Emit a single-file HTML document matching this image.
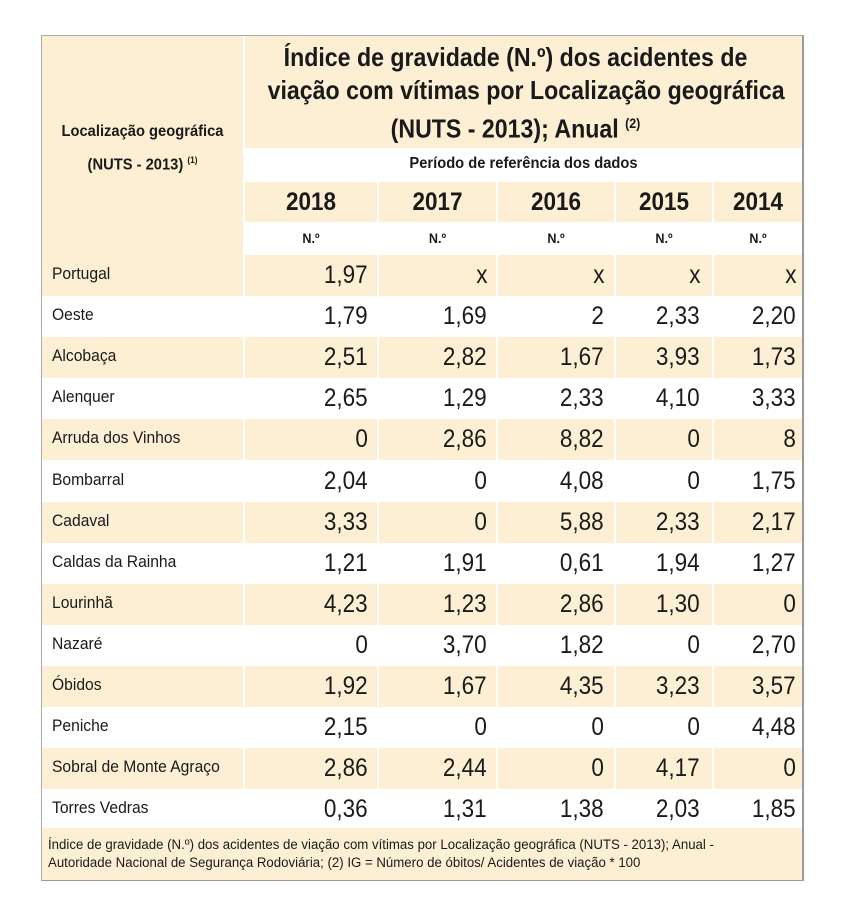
<!DOCTYPE html>
<html><head><meta charset="utf-8"><style>
*{margin:0;padding:0;box-sizing:border-box}
body{width:850px;height:917px;background:#fff;position:relative;font-family:"Liberation Sans",sans-serif;color:#1a1a1a;overflow:hidden}
.a{position:absolute}
.b{background:#fcefd4}
.w{background:#fff}
.t{position:absolute;white-space:nowrap}
.lab{font-size:17px;left:52px;transform:scaleX(0.92);transform-origin:left}
.num{font-size:25px;text-align:right;transform:scaleX(0.9);transform-origin:right}
.yr{font-size:25px;font-weight:bold;text-align:center;transform:scaleX(0.9)}
.no{font-size:14px;font-weight:bold;text-align:center;transform:scaleX(0.9)}
.sep{position:absolute;width:2px;background:#fff}
</style></head><body>
<div class="a" style="left:41px;top:35px;width:763px;height:846px;border:1px solid #aaa;border-right:2px solid #999;border-bottom:2px solid #999"></div>
<div class="a b" style="left:42px;top:36px;width:760px;height:219px"></div>
<div class="a w" style="left:245px;top:148px;width:557px;height:34px"></div>
<div class="a w" style="left:245px;top:222px;width:557px;height:33px"></div>
<div class="sep" style="left:243px;top:36px;height:219px"></div>
<div class="sep" style="left:377px;top:182px;height:40px"></div>
<div class="sep" style="left:496px;top:182px;height:40px"></div>
<div class="sep" style="left:614px;top:182px;height:40px"></div>
<div class="sep" style="left:712px;top:182px;height:40px"></div>

<div class="t" style="left:237px;width:557px;top:41px;text-align:center;font-size:26px;font-weight:bold;line-height:33px;transform:scaleX(0.89)">Índice de gravidade (N.º) dos acidentes de<br>viação com vítimas por Localização geográfica<br>(NUTS - 2013); Anual <sup style="font-size:14px">(2)</sup></div>
<div class="t" style="left:42px;width:201px;top:117px;text-align:center;font-size:16px;font-weight:bold;line-height:29px;transform:scaleX(0.92)">Localização geográfica<br>(NUTS - 2013) <sup style="font-size:9px">(1)</sup></div>
<div class="t" style="left:245px;width:557px;top:155px;text-align:center;font-size:16px;font-weight:bold;transform:scaleX(0.92)">Período de referência dos dados</div>

<div class="t yr" style="left:245px;width:132px;top:188px">2018</div>
<div class="t yr" style="left:379px;width:117px;top:188px">2017</div>
<div class="t yr" style="left:498px;width:116px;top:188px">2016</div>
<div class="t yr" style="left:616px;width:96px;top:188px">2015</div>
<div class="t yr" style="left:714px;width:88px;top:188px">2014</div>
<div class="t no" style="left:245px;width:132px;top:230px">N.º</div>
<div class="t no" style="left:379px;width:117px;top:230px">N.º</div>
<div class="t no" style="left:498px;width:116px;top:230px">N.º</div>
<div class="t no" style="left:616px;width:96px;top:230px">N.º</div>
<div class="t no" style="left:714px;width:88px;top:230px">N.º</div>

<div id="rows"></div>
<div class="a b" style="left:42px;top:828px;width:760px;height:52px"></div>
<div class="t" style="left:48px;top:836px;font-size:13.5px;line-height:18px;transform:scaleX(0.98);transform-origin:left">Índice de gravidade (N.º) dos acidentes de viação com vítimas por Localização geográfica (NUTS - 2013); Anual -<br>Autoridade Nacional de Segurança Rodoviária; (2) IG = Número de óbitos/ Acidentes de viação * 100</div>
<script>
var d=[["Portugal","1,97","x","x","x","x"],["Oeste","1,79","1,69","2","2,33","2,20"],["Alcobaça","2,51","2,82","1,67","3,93","1,73"],["Alenquer","2,65","1,29","2,33","4,10","3,33"],["Arruda dos Vinhos","0","2,86","8,82","0","8"],["Bombarral","2,04","0","4,08","0","1,75"],["Cadaval","3,33","0","5,88","2,33","2,17"],["Caldas da Rainha","1,21","1,91","0,61","1,94","1,27"],["Lourinhã","4,23","1,23","2,86","1,30","0"],["Nazaré","0","3,70","1,82","0","2,70"],["Óbidos","1,92","1,67","4,35","3,23","3,57"],["Peniche","2,15","0","0","0","4,48"],["Sobral de Monte Agraço","2,86","2,44","0","4,17","0"],["Torres Vedras","0,36","1,31","1,38","2,03","1,85"]];
var R=[368,487,604,700,796],h="";
d.forEach(function(r,i){var y=255+i*41.1;
if(i%2==0){h+='<div class="a b" style="left:42px;top:'+y+'px;width:760px;height:41px"></div>';
[243,377,496,614,712].forEach(function(x){h+='<div class="sep" style="left:'+x+'px;top:'+y+'px;height:41px"></div>'});}
h+='<div class="t lab" style="top:'+(y+9)+'px">'+r[0]+'</div>';
for(var j=0;j<5;j++){h+='<div class="t num" style="right:'+(850-R[j])+'px;top:'+(y+6)+'px">'+r[j+1]+'</div>';}
});
document.getElementById("rows").outerHTML=h;
</script>
</body></html>
